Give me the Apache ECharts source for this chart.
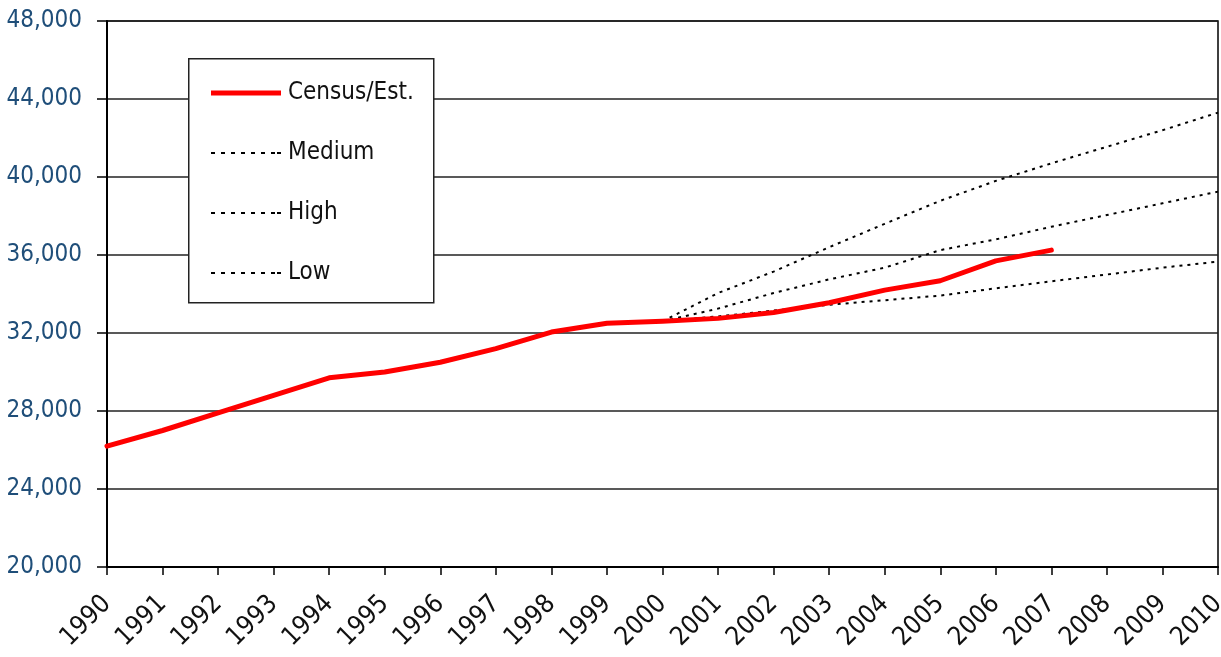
<!DOCTYPE html>
<html>
<head>
<meta charset="utf-8">
<script src="https://cdn.jsdelivr.net/npm/echarts@6/dist/echarts.min.js"></script>
<style>html,body{margin:0;padding:0;background:#fff;}#c{width:1221px;height:657px;}</style>
</head>
<body>
<div id="c"></div>
<script>
const years = ['1990','1991','1992','1993','1994','1995','1996','1997','1998','1999','2000','2001','2002','2003','2004','2005','2006','2007','2008','2009','2010'];
const yTicks = [20000, 24000, 28000, 32000, 36000, 40000, 44000, 48000];
const censusEst = [26200, 27000, 27900, 28800, 29700, 30000, 30500, 31200, 32050, 32500, 32600, 32750, 33050, 33550, 34200, 34680, 35700, 36250, null, null, null];
const medium = [null, null, null, null, null, null, null, null, null, null, 32600, 33250, 34050, 34750, 35350, 36250, 36800, 37450, 38050, 38650, 39250];
const high = [null, null, null, null, null, null, null, null, null, null, 32600, 34050, 35150, 36400, 37600, 38780, 39800, 40700, 41550, 42400, 43300];
const low = [null, null, null, null, null, null, null, null, null, null, 32600, 32850, 33150, 33450, 33680, 33920, 34290, 34650, 35000, 35350, 35660];

const FONT = "'Liberation Sans Narrow', 'Arial Narrow', 'DejaVu Sans Condensed', sans-serif";
const chart = echarts.init(document.getElementById('c'), null, {renderer: 'canvas'});
const dotted = {color: '#000', width: 2, type: [3, 5]};
const dotIcon = 'path://M0,0h4v2h-4z M10,0h4v2h-4z M20,0h4v2h-4z M30,0h4v2h-4z M40,0h4v2h-4z M50,0h4v2h-4z M60,0h4v2h-4z M66,0h4v2h-4z';
chart.setOption({
  animation: false,
  backgroundColor: '#fff',
  grid: {left: 107, right: 3, top: 21, bottom: 90, show: true, borderColor: '#000', borderWidth: 1.5,
    backgroundColor: 'transparent', outerBoundsMode: 'none', containLabel: false},
  graphic: [{
    type: 'rect', left: 188, top: 58, z: 5,
    shape: {width: 245, height: 244},
    style: {fill: '#fff', stroke: '#222', lineWidth: 1.5}
  }],
  legend: {
    z: 10,
    left: 211, top: 81, orient: 'vertical',
    itemWidth: 70, itemHeight: 24, itemGap: 36,
    padding: 0,
    textStyle: {fontFamily: FONT, fontSize: 24, color: '#111', padding: [0, 0, 0, 2]},
    data: [
      {name: 'Census/Est.', icon: 'path://M0,0 L70,0 L70,5 L0,5 Z', itemStyle: {color: '#ff0000'}},
      {name: 'Medium', icon: dotIcon, itemStyle: {color: '#000'}},
      {name: 'High', icon: dotIcon, itemStyle: {color: '#000'}},
      {name: 'Low', icon: dotIcon, itemStyle: {color: '#000'}}
    ]
  },
  xAxis: {
    type: 'category', data: years, boundaryGap: false,
    axisLine: {lineStyle: {color: '#000', width: 2}},
    axisTick: {show: true, alignWithLabel: true, length: 8, lineStyle: {color: '#000', width: 1.5}},
    axisLabel: {interval: 0, rotate: 45, fontFamily: FONT, fontSize: 26, color: '#111', margin: 33},
    splitLine: {show: false}
  },
  yAxis: {
    type: 'value', min: 20000, max: 48000, interval: 4000,
    axisLine: {show: true, lineStyle: {color: '#000', width: 2}},
    axisTick: {show: true, length: 10, lineStyle: {color: '#000', width: 1.5}},
    axisLabel: {fontFamily: FONT, fontSize: 24, color: '#1f4e79', margin: 25,
      formatter: v => yTicks.includes(v) ? v.toLocaleString('en-US') : ''},
    splitLine: {show: true, lineStyle: {color: '#222', width: 1.5}}
  },
  series: [
    {name: 'Census/Est.', type: 'line', data: censusEst, symbol: 'none', z: 4,
      lineStyle: {color: '#ff0000', width: 5, cap: 'round', join: 'round'}, itemStyle: {color: '#ff0000'}},
    {name: 'Medium', type: 'line', data: medium, symbol: 'none', z: 3, lineStyle: dotted, itemStyle: {color: '#000'}},
    {name: 'High', type: 'line', data: high, symbol: 'none', z: 3, lineStyle: dotted, itemStyle: {color: '#000'}},
    {name: 'Low', type: 'line', data: low, symbol: 'none', z: 3, lineStyle: dotted, itemStyle: {color: '#000'}}
  ]
});
</script>
</body>
</html>
